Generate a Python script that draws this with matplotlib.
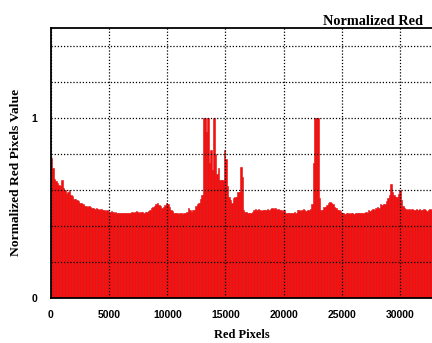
import numpy as np
import matplotlib
matplotlib.use("Agg")
import matplotlib.pyplot as plt

# 256 bins of 128 red levels each (0..32767)
bin_width = 128
red_values = [
    0.78, 0.72, 0.66, 0.65, 0.64, 0.63, 0.62, 0.655, 0.61, 0.60, 0.58, 0.59, 0.60, 0.575, 0.565, 0.55,
    0.55, 0.545, 0.54, 0.53, 0.53, 0.525, 0.51, 0.51, 0.505, 0.51, 0.505, 0.50, 0.50, 0.495, 0.50, 0.495,
    0.49, 0.495, 0.49, 0.49, 0.485, 0.49, 0.485, 0.48, 0.485, 0.48, 0.475, 0.48, 0.475, 0.475, 0.47, 0.475,
    0.47, 0.475, 0.47, 0.47, 0.475, 0.47, 0.48, 0.475, 0.48, 0.485, 0.48, 0.475, 0.48, 0.48, 0.475, 0.48,
    0.48, 0.485, 0.49, 0.50, 0.505, 0.51, 0.52, 0.53, 0.515, 0.51, 0.50, 0.505, 0.515, 0.53, 0.52, 0.505,
    0.49, 0.485, 0.475, 0.47, 0.47, 0.465, 0.47, 0.47, 0.465, 0.47, 0.475, 0.48, 0.50, 0.49, 0.48, 0.49,
    0.49, 0.51, 0.52, 0.53, 0.55, 0.57, 1.0, 1.0, 0.92, 1.0, 0.75, 0.82, 0.71, 1.0, 0.80, 0.69,
    0.72, 0.655, 0.655, 0.655, 0.82, 0.77, 0.62, 0.56, 0.545, 0.53, 0.555, 0.56, 0.56, 0.59, 0.59, 0.73,
    0.67, 0.49, 0.48, 0.48, 0.47, 0.47, 0.475, 0.48, 0.49, 0.495, 0.49, 0.495, 0.49, 0.485, 0.49, 0.49,
    0.49, 0.495, 0.49, 0.495, 0.50, 0.495, 0.50, 0.49, 0.495, 0.49, 0.49, 0.485, 0.49, 0.47, 0.475, 0.47,
    0.47, 0.475, 0.47, 0.48, 0.47, 0.49, 0.49, 0.485, 0.49, 0.495, 0.49, 0.485, 0.49, 0.49, 0.495, 0.52,
    0.75, 1.0, 1.0, 1.0, 0.555, 0.49, 0.49, 0.505, 0.505, 0.515, 0.53, 0.535, 0.53, 0.52, 0.505, 0.50,
    0.49, 0.49, 0.485, 0.47, 0.47, 0.465, 0.47, 0.47, 0.465, 0.47, 0.47, 0.465, 0.47, 0.47, 0.475, 0.47,
    0.47, 0.475, 0.47, 0.48, 0.475, 0.49, 0.485, 0.49, 0.495, 0.49, 0.50, 0.505, 0.50, 0.52, 0.515, 0.52,
    0.52, 0.54, 0.555, 0.57, 0.635, 0.59, 0.57, 0.56, 0.56, 0.58, 0.60, 0.545, 0.51, 0.50, 0.495, 0.49,
    0.495, 0.49, 0.495, 0.49, 0.49, 0.495, 0.49, 0.495, 0.49, 0.49, 0.495, 0.49, 0.485, 0.49, 0.495, 0.49,
]
x_ticks = [0, 5000, 10000, 15000, 20000, 25000, 30000]
y_ticks = [0, 0.2, 0.4, 0.6, 0.8, 1.0, 1.2, 1.4]
y_labels = ["0", "", "", "", "", "1", "", ""]

serif = "Liberation Serif"
sans = "Liberation Sans"

fig = plt.figure(figsize=(4.32, 3.43), dpi=100)
ax = fig.add_axes([51 / 432, 45 / 343, 381 / 432, 270 / 343])

left = np.arange(len(red_values)) * bin_width
ax.bar(left, red_values, width=bin_width, align="edge",
       color="#ff0a0a", edgecolor="#d81010", linewidth=0.4, zorder=1)

ax.set_xlim(0, 32768)
ax.set_ylim(0, 1.5)
ax.set_xticks(x_ticks)
ax.set_yticks(y_ticks)
ax.set_yticklabels(y_labels)
ax.tick_params(axis="x", length=0, pad=9)
ax.tick_params(axis="y", length=0, pad=10)
for lab in ax.get_xticklabels() + ax.get_yticklabels():
    lab.set_fontfamily(sans)
    lab.set_fontweight("bold")
    lab.set_fontsize(7.5)

ax.grid(True, color="black", linestyle=(0, (1, 1.5)), linewidth=0.9, zorder=3)
ax.set_axisbelow(False)
ax.spines["right"].set_visible(False)
for s in ["left", "top", "bottom"]:
    ax.spines[s].set_linewidth(1.3)
    ax.spines[s].set_zorder(4)

ax.set_xlabel("Red Pixels", fontfamily=serif, fontweight="bold", fontsize=9)
ax.xaxis.set_label_coords(0.5, -0.115)
ax.set_ylabel("Normalized Red Pixels Value", fontfamily=serif, fontweight="bold", fontsize=9.7)
ax.yaxis.set_label_coords(-0.075, 0.465)

fig.text(423 / 432, 1 - 25 / 343, "Normalized Red", ha="right", va="baseline",
         fontfamily=serif, fontweight="bold", fontsize=10.3)

fig.savefig("out.png", dpi=100)
